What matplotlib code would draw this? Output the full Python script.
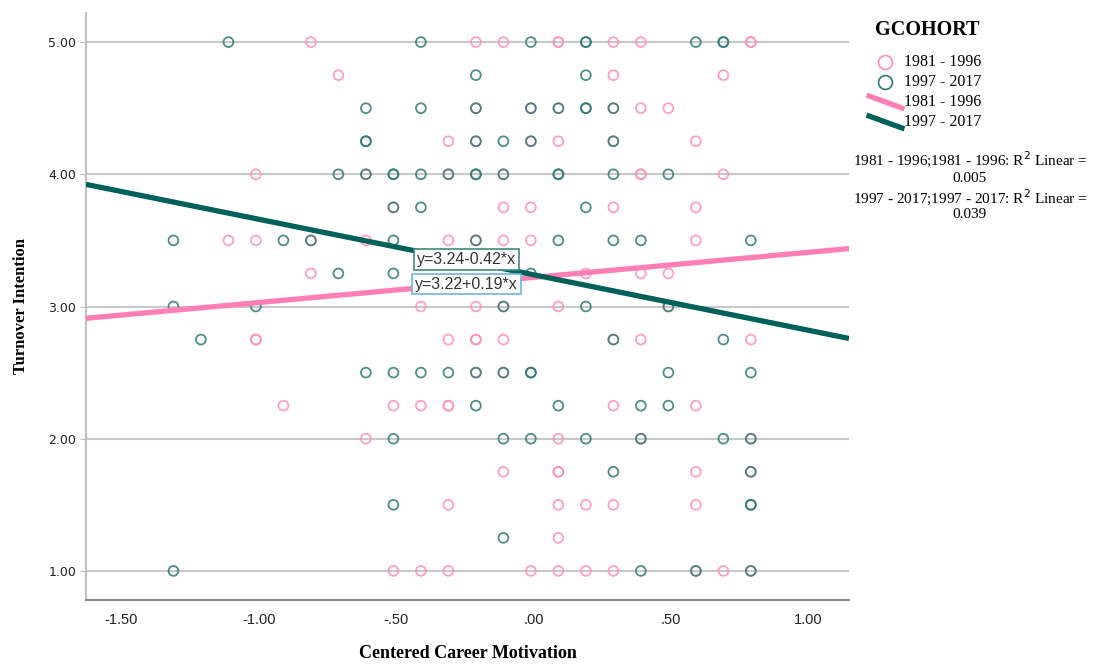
import matplotlib
matplotlib.use("Agg")
import matplotlib.pyplot as plt
from matplotlib.lines import Line2D
from matplotlib.ticker import FuncFormatter
import numpy as np

# Turnover Intention levels (one row of points per level)
score_levels = [5.00, 4.75, 4.50, 4.25, 4.00, 3.75, 3.50, 3.25, 3.00,
                2.75, 2.50, 2.25, 2.00, 1.75, 1.50, 1.25, 1.00]

# Centered Career Motivation, cohort 1981 - 1996, per level above
pink_x_rows = [
    [-0.81, -0.21, -0.11, 0.09, 0.09, 0.29, 0.39, 0.79, 0.79],
    [-0.71, 0.29, 0.69],
    [-0.21, -0.01, 0.09, 0.29, 0.39, 0.49],
    [-0.31, -0.21, -0.01, 0.09, 0.29, 0.59],
    [-1.01, -0.61, -0.31, -0.11, 0.39, 0.39, 0.69],
    [-0.51, -0.11, -0.01, 0.29, 0.59],
    [-1.11, -1.01, -0.81, -0.61, -0.31, -0.21, -0.11, -0.01, 0.59],
    [-0.81, 0.19, 0.39, 0.49],
    [-0.41, -0.21, -0.11, 0.09, 0.49],
    [-1.01, -1.01, -0.31, -0.21, -0.21, -0.11, 0.29, 0.39, 0.79],
    [-0.21, -0.11],
    [-0.91, -0.51, -0.41, -0.31, -0.31, 0.29, 0.59],
    [-0.61, 0.09, 0.39, 0.79],
    [-0.11, 0.09, 0.09, 0.59, 0.79],
    [-0.31, 0.09, 0.19, 0.29, 0.59],
    [0.09],
    [-0.51, -0.41, -0.31, -0.01, 0.09, 0.19, 0.29, 0.59, 0.69, 0.79],
]

# Centered Career Motivation, cohort 1997 - 2017, per level above
teal_x_rows = [
    [-1.11, -0.41, -0.01, 0.19, 0.19, 0.59, 0.69, 0.69],
    [-0.21, 0.19],
    [-0.61, -0.41, -0.21, -0.01, 0.09, 0.19, 0.19, 0.29],
    [-0.61, -0.61, -0.21, -0.11, -0.01, 0.29],
    [-0.71, -0.61, -0.51, -0.51, -0.41, -0.31, -0.21, -0.21, -0.11, 0.09, 0.09, 0.29, 0.49],
    [-0.51, -0.41, 0.19],
    [-1.31, -0.91, -0.81, -0.51, -0.21, 0.09, 0.29, 0.39, 0.79],
    [-0.71, -0.51, -0.01],
    [-1.31, -1.01, -0.11, 0.19, 0.49],
    [-1.21, 0.29, 0.69],
    [-0.61, -0.51, -0.41, -0.31, -0.21, -0.11, -0.01, -0.01, 0.49, 0.79],
    [-0.21, 0.09, 0.39, 0.49],
    [-0.51, -0.11, -0.01, 0.19, 0.39, 0.69, 0.79],
    [0.29, 0.79],
    [-0.51, 0.79, 0.79],
    [-0.11],
    [-1.31, 0.39, 0.59, 0.79],
]

# fit lines (intercept, slope) and R2 as printed in the chart
cohorts = ["1981 - 1996", "1997 - 2017"]
intercepts = [3.22, 3.24]
slopes = [0.19, -0.42]
r2_values = ["0.005", "0.039"]

x_ticks = [-1.5, -1.0, -0.5, 0.0, 0.5, 1.0]
y_ticks = [1, 2, 3, 4, 5]

PINK_PT = "#ff8fb9"
TEAL_PT = "#2d7a74"
PINK_LN = "#ff7fb4"
TEAL_LN = "#00615a"

W, H = 1094, 664


def px(x, y):
    return x / W, 1 - y / H


def flatten(rows):
    xs, ys = [], []
    for lvl, row in zip(score_levels, rows):
        xs += row
        ys += [lvl] * len(row)
    return np.array(xs), np.array(ys)


pink_x, pink_y = flatten(pink_x_rows)
teal_x, teal_y = flatten(teal_x_rows)

fig = plt.figure(figsize=(W / 100, H / 100), dpi=100)
ax = fig.add_axes([86 / W, 1 - 600 / H, (849 - 86) / W, (600 - 13) / H])

ax.set_xlim(-1.628, 1.147)
ax.set_ylim(0.78, 5.22)

ax.yaxis.grid(True, color="#c8c8c8", linewidth=1.5)
ax.set_axisbelow(True)

ax.scatter(pink_x, pink_y, s=50, facecolors="none", edgecolors=PINK_PT,
           linewidths=1.3, alpha=0.85, zorder=3)
ax.scatter(teal_x, teal_y, s=50, facecolors="none", edgecolors=TEAL_PT,
           linewidths=1.3, alpha=0.85, zorder=3)

xl = np.array(ax.get_xlim())
line_cols = [PINK_LN, TEAL_LN]
for b0, b1, c in zip(intercepts, slopes, line_cols):
    ax.plot(xl, b0 + b1 * xl, color=c, linewidth=3.8, zorder=4,
            solid_capstyle="butt")

# equation labels
eq_teal = "y=%.2f-%.2f*x" % (intercepts[1], abs(slopes[1]))
eq_pink = "y=%.2f+%.2f*x" % (intercepts[0], slopes[0])
ax.text(-0.245, 3.355, eq_teal, fontsize=11.5, family="Liberation Sans",
        color="#333333", ha="center", va="center", zorder=6,
        bbox=dict(boxstyle="square,pad=0.18", fc="white", ec="#3d8a82", lw=1.2))
ax.text(-0.245, 3.17, eq_pink, fontsize=11.5, family="Liberation Sans",
        color="#333333", ha="center", va="center", zorder=5,
        bbox=dict(boxstyle="square,pad=0.18", fc="white", ec="#6db3e6", lw=1.2))

# axes styling
for s in ["top", "right"]:
    ax.spines[s].set_visible(False)
ax.spines["left"].set_color("#c0c0c0")
ax.spines["left"].set_linewidth(1.5)
ax.spines["bottom"].set_color("#8a8a8a")
ax.spines["bottom"].set_linewidth(1.5)

ax.set_xticks(x_ticks)
ax.set_yticks(y_ticks)


def spss_fmt(v, pos):
    s = "%.2f" % v
    return s.replace("0.", ".", 1) if abs(v) < 1 else s


ax.xaxis.set_major_formatter(FuncFormatter(spss_fmt))
ax.yaxis.set_major_formatter(FuncFormatter(lambda v, p: "%.2f" % v))
ax.tick_params(axis="x", length=0, pad=9, labelsize=10.5, colors="#222222")
ax.tick_params(axis="y", length=4, color="#c0c0c0", pad=3, labelsize=9,
               colors="#222222")
for lab in ax.get_xticklabels():
    lab.set_family(["Liberation Sans Narrow", "Liberation Sans"])
for lab in ax.get_yticklabels():
    lab.set_family("DejaVu Sans")

ax.set_xlabel("Centered Career Motivation", family="Liberation Serif",
              fontweight="bold", fontsize=13, labelpad=13)
ax.set_ylabel("Turnover Intention", family="Liberation Serif",
              fontweight="bold", fontsize=12, labelpad=14)

# legend, drawn by hand in SPSS style
fig.text(*px(927, 30), "GCOHORT", family="Liberation Serif", fontweight="bold",
         fontsize=14.5, ha="center", va="center")
fig.add_artist(Line2D([px(885, 62)[0]], [px(885, 62)[1]], marker="o",
                      markersize=10, mfc="none", mec=PINK_PT, mew=1.2))
fig.add_artist(Line2D([px(885, 82)[0]], [px(885, 82)[1]], marker="o",
                      markersize=10, mfc="none", mec=TEAL_PT, mew=1.2))
fig.add_artist(Line2D([px(869, 96)[0], px(902, 108)[0]],
                      [px(869, 96)[1], px(902, 108)[1]],
                      color=PINK_LN, linewidth=3.8))
fig.add_artist(Line2D([px(869, 116)[0], px(902, 128)[0]],
                      [px(869, 116)[1], px(902, 128)[1]],
                      color=TEAL_LN, linewidth=3.8))
for yy, lab in zip([62, 82, 102, 122], cohorts + cohorts):
    fig.text(*px(904, yy), lab, family="Liberation Serif", fontsize=11.5,
             ha="left", va="center")

r2_y = [[159, 178], [197, 215]]
for (y1, y2), coh, r2 in zip(r2_y, cohorts, r2_values):
    fig.text(*px(970, y1), "%s;%s: R$^2$ Linear =" % (coh, coh),
             family="Liberation Serif", fontsize=11, ha="center", va="center")
    fig.text(*px(970, y2), r2, family="Liberation Serif", fontsize=11,
             ha="center", va="center")

fig.savefig("out.png", dpi=100)
